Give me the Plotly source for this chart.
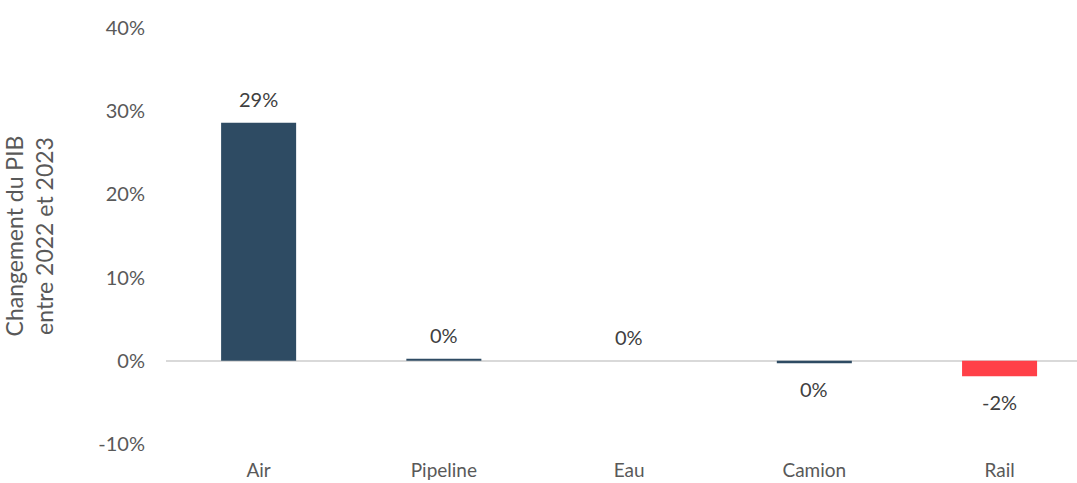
import plotly.graph_objects as go

categories = ["Air", "Pipeline", "Eau", "Camion", "Rail"]
values = [0.286, 0.0025, 0.0, -0.003, -0.0185]
labels = ["29%", "0%", "0%", "0%", "-2%"]
colors = ["#2E4B63", "#2E4B63", "#2E4B63", "#2E4B63", "#FF4048"]

y_ticks = [-0.1, 0.0, 0.1, 0.2, 0.3, 0.4]
y_tick_labels = ["-10%", "0%", "10%", "20%", "30%", "40%"]

font_family = "Lato, 'Noto Sans', sans-serif"
gray = "#595959"

fig = go.Figure()
fig.add_trace(go.Bar(
    x=categories, y=values,
    marker=dict(color=colors, line=dict(width=0)),
    hoverinfo="skip",
))

for c, v, t in zip(categories, values, labels):
    fig.add_annotation(
        x=c, y=v, text=t, showarrow=False,
        yshift=24 if v >= 0 else -26,
        font=dict(family=font_family, size=20, color="#404040"),
    )

fig.update_layout(
    width=1077, height=483,
    margin=dict(l=166, r=0, t=28, b=39, autoexpand=False),
    paper_bgcolor="white", plot_bgcolor="white",
    bargap=0.595,
    showlegend=False,
    font=dict(family=font_family, size=19, color=gray),
    xaxis=dict(
        range=[-0.5, 4.418],
        showgrid=False, zeroline=False, showline=False,
        ticks="", ticklabelstandoff=13, automargin=False,
        tickfont=dict(family=font_family, size=19, color=gray),
    ),
    yaxis=dict(
        range=[-0.1, 0.4],
        tickvals=y_ticks, ticktext=y_tick_labels,
        showgrid=False, zeroline=True, zerolinecolor="#D9D9D9", zerolinewidth=1.5,
        showline=False, ticks="", ticklabelstandoff=20, automargin=False,
        tickfont=dict(family=font_family, size=20, color=gray),
        title=dict(text="Changement du PIB<br>entre 2022 et 2023",
                   font=dict(family=font_family, size=23, color=gray),
                   standoff=45),
    ),
)

fig.write_html("out.html")
